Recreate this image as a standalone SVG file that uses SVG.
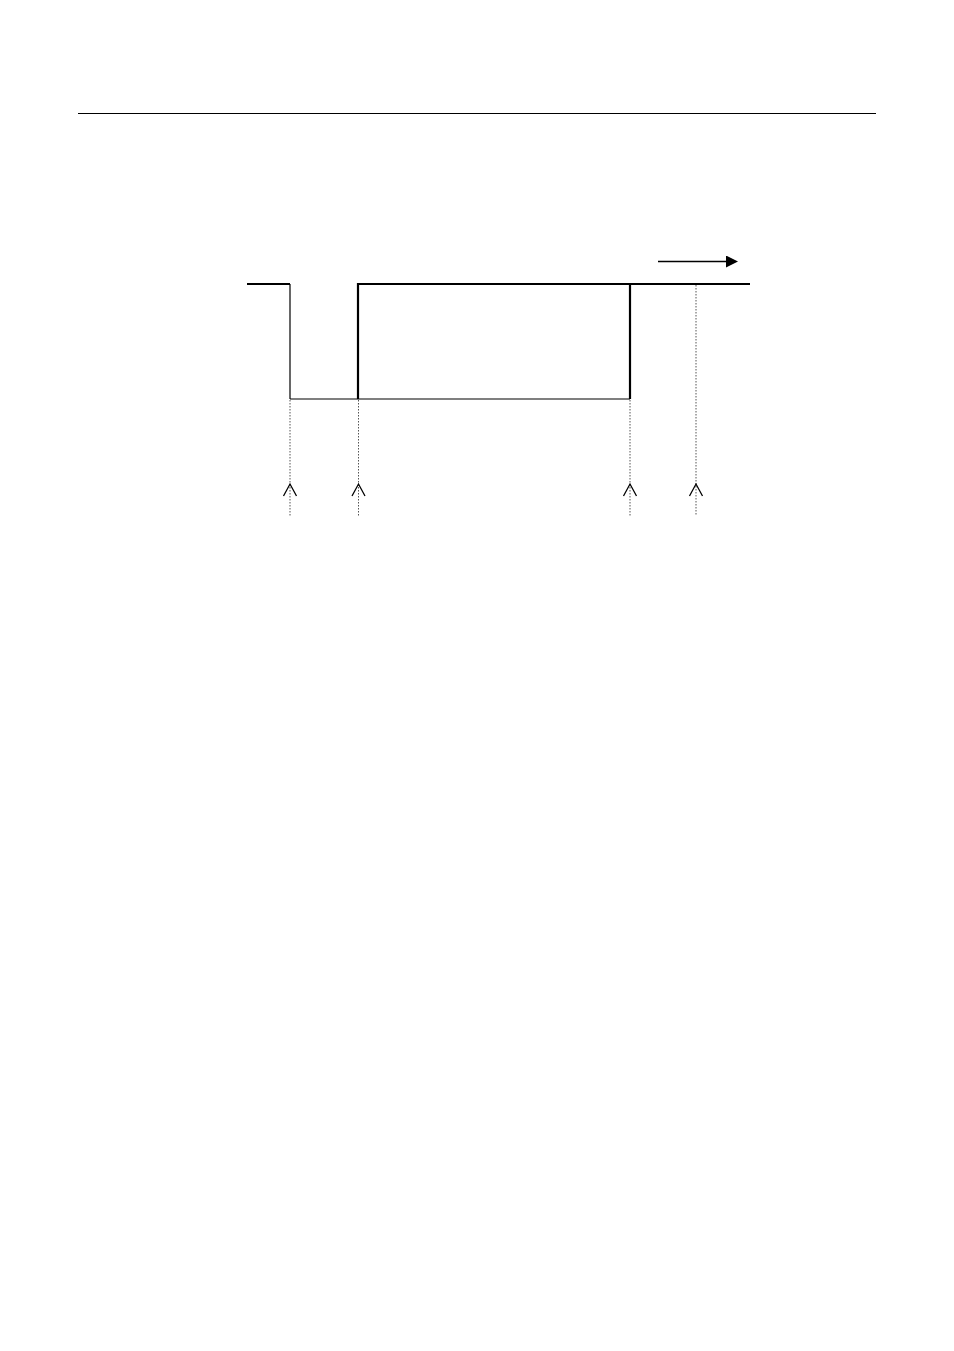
<svg xmlns="http://www.w3.org/2000/svg" width="954" height="1351" viewBox="0 0 954 1351">
<style>
.thick{stroke:#000;stroke-width:2.2;fill:none}
.thin{stroke:#000;stroke-width:1.2;fill:none}
.dot{stroke:#555;stroke-width:1;stroke-dasharray:1.5,1.5;fill:none}
.head{stroke:#000;stroke-width:1.3;fill:none}
</style>
<defs>
<marker id="ah" markerWidth="12" markerHeight="12" refX="0" refY="6" orient="auto" markerUnits="userSpaceOnUse">
<path d="M0,0 L12,6 L0,12 Z" fill="#000"/>
</marker>
</defs>
<rect width="954" height="1351" fill="#fff"/>
<line x1="78" y1="113.5" x2="876" y2="113.5" stroke="#000" stroke-width="1"/>
<g id="waveform">
<polyline class="thick" points="247,284 290,284"/>
<line class="thin" x1="290" y1="284" x2="290" y2="399"/>
<line class="thin" x1="290" y1="399" x2="630" y2="399"/>
<polyline class="thick" points="358,399 358,284 750,284"/>
<line class="thick" x1="630" y1="284" x2="630" y2="399"/>
</g>
<g id="connectors">
<line class="dot" x1="290" y1="400" x2="290" y2="516"/>
<line class="dot" x1="358.5" y1="400" x2="358.5" y2="516"/>
<line class="dot" x1="630" y1="400" x2="630" y2="516"/>
<line class="dot" x1="696" y1="285" x2="696" y2="516"/>
<polyline class="head" points="283.5,496 290,484 296.5,496"/>
<polyline class="head" points="352,496 358.5,484 365,496"/>
<polyline class="head" points="623.5,496 630,484 636.5,496"/>
<polyline class="head" points="689.5,496 696,484 702.5,496"/>
<line x1="658" y1="261.5" x2="726" y2="261.5" stroke="#000" stroke-width="1.3" marker-end="url(#ah)"/>
</g>
</svg>
